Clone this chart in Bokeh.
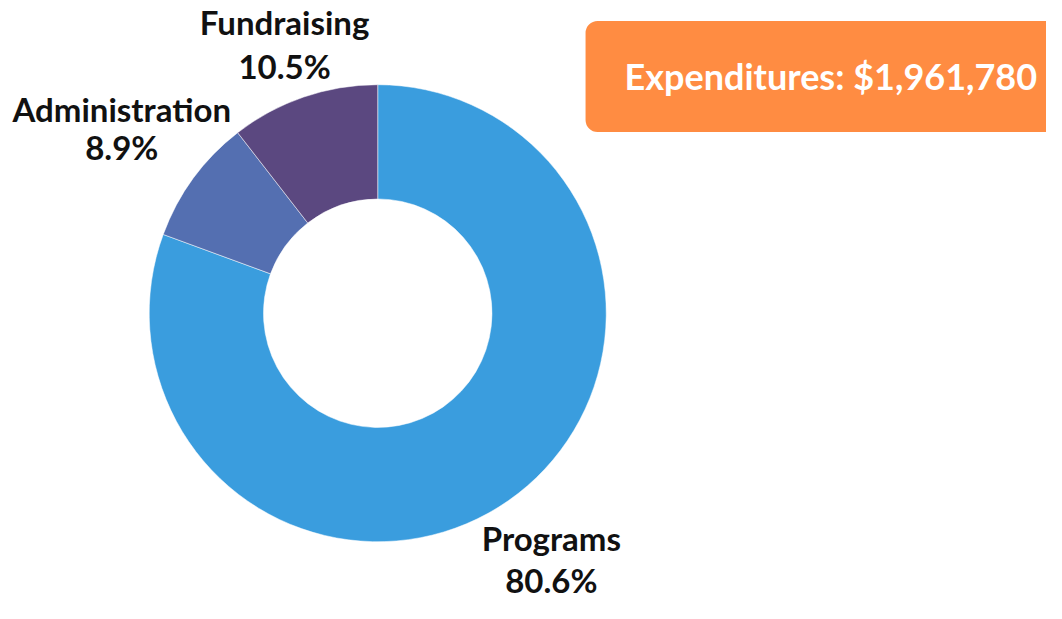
import math
from bokeh.plotting import figure
from bokeh.models import Range1d, ColumnDataSource, BoxAnnotation
from bokeh.core.properties import value
from bokeh.embed import file_html
from bokeh.resources import INLINE

# ---- data ----
categories = ["Programs", "Administration", "Fundraising"]
percents = [80.6, 8.9, 10.5]
colors = ["#3a9dde", "#546fb1", "#5b4880"]
total_label = "Expenditures: $1,961,780"

# ---- layout (reference pixel coordinates, y down) ----
W, H = 1046, 603
REF_W, REF_H = 1062, 619
cx, cy = 383, 321
r_out, r_in = 232, 116
label_radius = [308, 322, 292]
line_gap = [21.5, 19.5, 22.5]
FONT = "33px"
TITLE_FONT = "36px"

p = figure(width=W, height=H, output_backend="svg", toolbar_location=None,
           x_range=Range1d(0, REF_W), y_range=Range1d(-REF_H, 0),
           min_border=0)
p.axis.visible = False
p.grid.visible = False
p.outline_line_color = None
p.background_fill_color = "white"
p.border_fill_color = "white"

box = BoxAnnotation(left=594, right=1100, top=-21, bottom=-135,
                    fill_color="#ff8c42", fill_alpha=1.0, line_alpha=0,
                    border_radius=12, level="underlay")
p.add_layout(box)

total = sum(percents)
starts, ends, mids = [], [], []
a = math.pi / 2
for v in percents:
    span = 2 * math.pi * v / total
    starts.append(a)
    ends.append(a - span)
    mids.append(a - span / 2)
    a -= span

src = ColumnDataSource(dict(start=starts, end=ends, color=colors))
p.annular_wedge(x=cx, y=-cy, inner_radius=r_in, outer_radius=r_out,
                start_angle="start", end_angle="end", direction="clock",
                fill_color="color", line_color="white", line_width=0.5,
                source=src)

lx = [cx + r * math.cos(m) for r, m in zip(label_radius, mids)]
ly = [-cy + r * math.sin(m) for r, m in zip(label_radius, mids)]
names_src = ColumnDataSource(dict(x=lx, y=[y + g for y, g in zip(ly, line_gap)],
                                  t=categories))
pct_src = ColumnDataSource(dict(x=lx, y=[y - g for y, g in zip(ly, line_gap)],
                                t=[f"{v:.1f}%" for v in percents]))
for s in (names_src, pct_src):
    p.text(x="x", y="y", text="t", source=s, text_font=value("Lato"),
           text_font_style="bold", text_font_size=FONT, text_color="#111111",
           text_align="center", text_baseline="middle")

p.text(x=[843], y=[-78], text=[total_label], text_font=value("Lato"),
       text_font_style="bold", text_font_size=TITLE_FONT, text_color="white",
       text_align="center", text_baseline="middle")

open("out.html", "w").write(file_html(p, INLINE))
